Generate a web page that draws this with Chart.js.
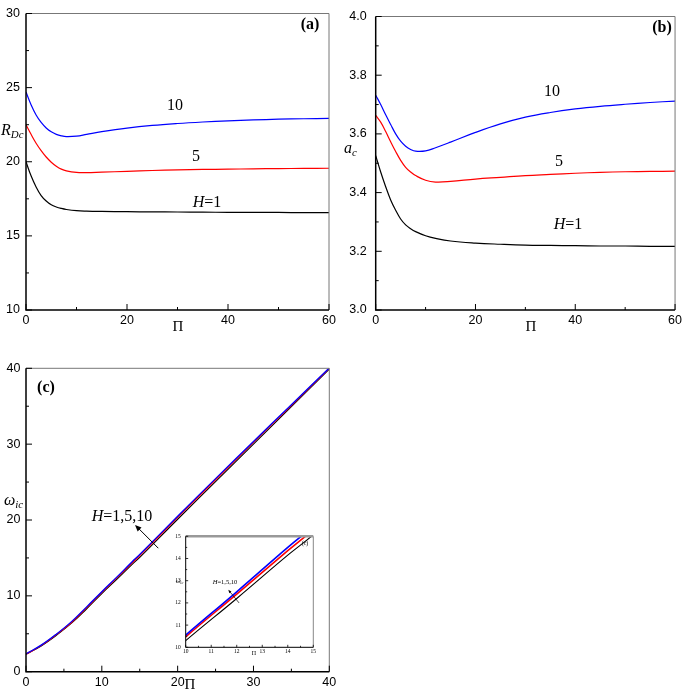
<!DOCTYPE html>
<html>
<head>
<meta charset="utf-8">
<script src="https://cdn.jsdelivr.net/npm/chart.js@4.4.1/dist/chart.umd.min.js"></script>
<style>
  body { margin: 0; background: #fff; }
  #wrap { position: relative; width: 685px; height: 690px; overflow: hidden; font-family: "Liberation Serif", "Times New Roman", serif; color: #000; }
  #wrap canvas { position: absolute; }
  .t { position: absolute; white-space: nowrap; line-height: 1; transform: translate(-50%, -50%); }
  .l { transform: translate(0, -50%); }
  .b { font-weight: bold; }
  .sub { font-size: 0.68em; position: relative; top: 0.3em; font-style: italic; }
</style>
</head>
<body>
<div id="wrap">
  <canvas id="chartA" width="340" height="340" style="left:0;top:0"></canvas>
  <canvas id="chartB" width="345" height="340" style="left:340px;top:0"></canvas>
  <canvas id="chartC" width="340" height="350" style="left:0;top:340px"></canvas>
  <canvas id="chartInset" width="160" height="130" style="left:160px;top:528px"></canvas>

  <!-- (a) -->
  <div class="t b" style="left:310px;top:24px;font-size:16px">(a)</div>
  <div class="t" style="left:175px;top:105px;font-size:16px">10</div>
  <div class="t" style="left:196px;top:156px;font-size:16px">5</div>
  <div class="t" style="left:207px;top:202px;font-size:16px"><i>H</i>=1</div>
  <div class="t l" style="left:1px;top:130px;font-size:16px"><i>R</i><span class="sub">Dc</span></div>
  <div class="t" style="left:178px;top:326px;font-size:15px">&Pi;</div>

  <!-- (b) -->
  <div class="t b" style="left:662px;top:27px;font-size:16px">(b)</div>
  <div class="t" style="left:552px;top:91px;font-size:16px">10</div>
  <div class="t" style="left:559px;top:161px;font-size:16px">5</div>
  <div class="t" style="left:568px;top:224px;font-size:16px"><i>H</i>=1</div>
  <div class="t l" style="left:344px;top:148px;font-size:16px"><i>a</i><span class="sub">c</span></div>
  <div class="t" style="left:531px;top:326px;font-size:15px">&Pi;</div>

  <!-- (c) -->
  <div class="t b" style="left:46px;top:387px;font-size:16px">(c)</div>
  <div class="t" style="left:122px;top:516px;font-size:16px"><i>H</i>=1,5,10</div>
  <div class="t l" style="left:4px;top:500px;font-size:16px"><i>&omega;</i><span class="sub">ic</span></div>
  <div class="t" style="left:190px;top:684px;font-size:15px">&Pi;</div>

  <!-- inset -->
  <div class="t" style="left:225px;top:582px;font-size:6.5px"><i>H</i>=1,5,10</div>
  <div class="t" style="left:305px;top:543px;font-size:6px">(c)</div>
  <div class="t l" style="left:176px;top:581px;font-size:6px"><i>&omega;</i><span class="sub">ic</span></div>
  <div class="t" style="left:254px;top:653px;font-size:6px">&Pi;</div>
</div>

<script>
// (a) and (b): Π from 0 to 60
const piAB = [0, 1, 2, 3, 4, 5, 6, 7, 8, 10, 12, 15, 20, 25, 30, 35, 40, 45, 50, 55, 60]
const rdcH10 = [24.7, 23.85, 23.15, 22.65, 22.28, 22.02, 21.85, 21.75, 21.7, 21.73, 21.85, 22.03, 22.27, 22.45, 22.58, 22.68, 22.76, 22.82, 22.87, 22.9, 22.93]
const rdcH5 = [22.5, 21.85, 21.25, 20.75, 20.32, 19.97, 19.7, 19.5, 19.38, 19.28, 19.27, 19.3, 19.35, 19.41, 19.45, 19.48, 19.5, 19.52, 19.54, 19.55, 19.56]
const rdcH1 = [20.0, 19.05, 18.3, 17.72, 17.35, 17.1, 16.95, 16.85, 16.78, 16.7, 16.67, 16.65, 16.63, 16.62, 16.61, 16.6, 16.59, 16.58, 16.58, 16.57, 16.57]
const acH10 = [3.732, 3.70, 3.665, 3.632, 3.60, 3.575, 3.558, 3.547, 3.541, 3.542, 3.553, 3.572, 3.605, 3.634, 3.657, 3.673, 3.685, 3.694, 3.701, 3.707, 3.712]
const acH5 = [3.663, 3.64, 3.608, 3.573, 3.54, 3.51, 3.486, 3.47, 3.458, 3.442, 3.436, 3.438, 3.446, 3.452, 3.458, 3.462, 3.466, 3.469, 3.471, 3.472, 3.473]
const acH1 = [3.526, 3.47, 3.42, 3.375, 3.34, 3.31, 3.29, 3.277, 3.267, 3.253, 3.244, 3.235, 3.228, 3.224, 3.221, 3.22, 3.219, 3.218, 3.218, 3.217, 3.217]

// (c): Π from 0 to 40, also used by the inset
const piC = [0, 2, 4, 6, 8, 10, 12, 14, 15, 20, 25, 30, 35, 40]
const wH10 = [2.35, 3.5, 4.95, 6.6, 8.55, 10.55, 12.5, 14.5, 15.45, 20.5, 25.45, 30.35, 35.2, 40.05]
const wH5 = [2.3, 3.45, 4.9, 6.5, 8.45, 10.47, 12.4, 14.35, 15.3, 20.35, 25.3, 30.25, 35.1, 40.0]
const wH1 = [2.3, 3.4, 4.8, 6.4, 8.3, 10.3, 12.2, 14.15, 15.07, 20.1, 25.05, 30.0, 34.95, 39.9]

// tick labels
const ticksAx = [0, 20, 40, 60]
const ticksAy = [10, 15, 20, 25, 30]
const ticksBy = [3.0, 3.2, 3.4, 3.6, 3.8, 4.0]
const ticksC = [0, 10, 20, 30, 40]
const ticksInset = [10, 11, 12, 13, 14, 15]

const BLUE = '#0000ff', RED = '#ff0000', BLACK = '#000000'

const curve = (xs, ys, color, width) => ({
    data: xs.map((x, i) => ({x, y: ys[i]})),
    borderColor: color,
    borderWidth: width,
    pointRadius: 0,
    fill: false,
    tension: 0.4
})

const axis = (min, max, ticks, o) => ({
    type: 'linear', min, max,
    grid: {display: false, drawTicks: false},
    border: {display: false},
    afterBuildTicks: s => { s.ticks = ticks.map(v => ({value: v})) },
    afterFit: s => {
        if (o.width != null) s.width = o.width
        if (o.height != null) s.height = o.height
    },
    ticks: {
        padding: o.pad, color: '#000', autoSkip: false, maxRotation: 0,
        font: {family: o.family || 'Liberation Sans', size: o.size || 12.5},
        callback: o.fmt || (v => v)
    }
})

// box frame with inward ticks on left/bottom, plus optional arrows
const framePlugin = {
    id: 'frame',
    afterDatasetsDraw(chart, args, o) {
        const {ctx, chartArea: a, scales: {x, y}} = chart
        ctx.save()
        ctx.strokeStyle = o.sideColor
        ctx.lineWidth = o.sideWidth
        ctx.beginPath(); ctx.moveTo(a.right, a.bottom); ctx.lineTo(a.right, a.top); ctx.stroke()
        ctx.strokeStyle = o.topColor || o.sideColor
        ctx.lineWidth = o.topWidth
        ctx.beginPath(); ctx.moveTo(a.left, a.top); ctx.lineTo(a.right, a.top); ctx.stroke()

        ctx.strokeStyle = '#000'
        ctx.lineWidth = o.axisWidth
        ctx.beginPath(); ctx.moveTo(a.left, a.top); ctx.lineTo(a.left, a.bottom); ctx.lineTo(a.right, a.bottom); ctx.stroke()

        ctx.lineWidth = o.tickWidth
        const marks = (scale, draw) => {
            const vals = scale.ticks.map(t => t.value)
            vals.forEach((v, i) => {
                draw(scale.getPixelForValue(v), o.major)
                if (i < vals.length - 1) draw(scale.getPixelForValue((v + vals[i + 1]) / 2), o.minor)
            })
        }
        ctx.beginPath()
        marks(x, (px, len) => { ctx.moveTo(px, a.bottom); ctx.lineTo(px, a.bottom - len) })
        marks(y, (py, len) => { ctx.moveTo(a.left, py); ctx.lineTo(a.left + len, py) })
        ctx.stroke()

        ;(o.arrows || []).forEach(ar => {
            const x0 = x.getPixelForValue(ar.from[0]), y0 = y.getPixelForValue(ar.from[1])
            const x1 = x.getPixelForValue(ar.to[0]), y1 = y.getPixelForValue(ar.to[1])
            const ang = Math.atan2(y1 - y0, x1 - x0)
            ctx.strokeStyle = '#000'
            ctx.fillStyle = '#000'
            ctx.lineWidth = ar.width
            ctx.beginPath()
            ctx.moveTo(x0, y0)
            ctx.lineTo(x1 - Math.cos(ang) * ar.head * 0.7, y1 - Math.sin(ang) * ar.head * 0.7)
            ctx.stroke()
            ctx.beginPath()
            ctx.moveTo(x1, y1)
            ctx.lineTo(x1 - ar.head * Math.cos(ang - 0.4), y1 - ar.head * Math.sin(ang - 0.4))
            ctx.lineTo(x1 - ar.head * Math.cos(ang + 0.4), y1 - ar.head * Math.sin(ang + 0.4))
            ctx.closePath()
            ctx.fill()
        })
        ctx.restore()
    }
}

const mainFrame = {sideColor: '#777', sideWidth: 1, topWidth: 1, axisWidth: 1.5, tickWidth: 1, major: 6, minor: 3}

const baseOptions = (padding, scales, frame) => ({
    responsive: false,
    animation: false,
    events: [],
    layout: {autoPadding: false, padding},
    plugins: {legend: {display: false}, tooltip: {enabled: false}, frame},
    scales
})

new Chart(document.getElementById('chartA'), {
    type: 'line',
    data: {datasets: [curve(piAB, rdcH10, BLUE, 1.2), curve(piAB, rdcH5, RED, 1.2), curve(piAB, rdcH1, BLACK, 1.2)]},
    options: baseOptions({left: 0, top: 7, right: 11, bottom: 0}, {
        x: axis(0, 60, ticksAx, {height: 30, pad: 3}),
        y: axis(10, 30, ticksAy, {width: 26, pad: 6})
    }, mainFrame),
    plugins: [framePlugin]
})

new Chart(document.getElementById('chartB'), {
    type: 'line',
    data: {datasets: [curve(piAB, acH10, BLUE, 1.2), curve(piAB, acH5, RED, 1.2), curve(piAB, acH1, BLACK, 1.2)]},
    options: baseOptions({left: 0, top: 6.7, right: 5.7, bottom: 0}, {
        x: axis(0, 60, ticksAx, {height: 30, pad: 3}),
        y: axis(3.0, 4.0, ticksBy, {width: 35.7, pad: 9, fmt: v => v.toFixed(1)})
    }, mainFrame),
    plugins: [framePlugin]
})

new Chart(document.getElementById('chartC'), {
    type: 'line',
    data: {datasets: [curve(piC, wH10, BLUE, 1.3), curve(piC, wH5, RED, 1.3), curve(piC, wH1, BLACK, 1.1)]},
    options: baseOptions({left: 0, top: 28.3, right: 10.7, bottom: 0}, {
        x: axis(0, 40, ticksC, {height: 18.3, pad: 3}),
        y: axis(0, 40, ticksC, {width: 26, pad: 5.5})
    }, {...mainFrame, arrows: [{from: [17.45, 16.28], to: [14.38, 19.35], head: 7, width: 1}]}),
    plugins: [framePlugin]
})

new Chart(document.getElementById('chartInset'), {
    type: 'line',
    data: {datasets: [curve(piC, wH10, BLUE, 1.6), curve(piC, wH5, RED, 1.6), curve(piC, wH1, BLACK, 1.1)]},
    options: baseOptions({left: 0, top: 5.3, right: 6.7, bottom: 0}, {
        x: axis(10, 15, ticksInset, {height: 10.7, pad: 1.4, size: 5.5, family: 'Liberation Serif'}),
        y: axis(10, 15, ticksInset, {width: 25.7, pad: 5, size: 5.5, family: 'Liberation Serif'})
    }, {sideColor: '#888', topColor: '#999', sideWidth: 1, topWidth: 2.5, axisWidth: 1, tickWidth: 0.8, major: 2.5, minor: 1.5,
        arrows: [{from: [12.09, 12.0], to: [11.67, 12.59], head: 3.5, width: 0.7}]}),
    plugins: [framePlugin]
})
</script>
</body>
</html>
